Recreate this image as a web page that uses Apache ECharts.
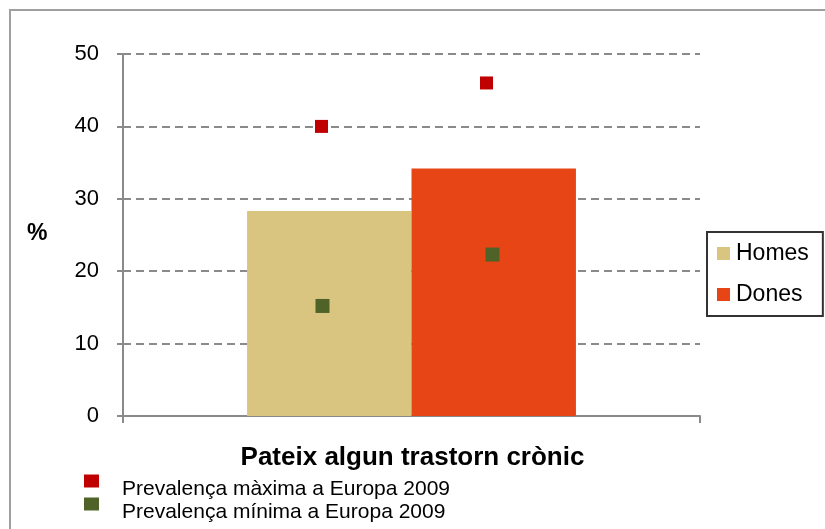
<!DOCTYPE html>
<html>
<head>
<meta charset="utf-8">
<script src="https://cdn.jsdelivr.net/npm/echarts@6/dist/echarts.min.js"></script>
<style>
  html, body { margin: 0; padding: 0; background: #fff; }
  #chart { width: 825px; height: 529px; }
</style>
</head>
<body>
<div id="chart"></div>
<script>
// dades
const categories = ['Pateix algun trastorn crònic'];
const homes = [28.3];
const dones = [34.2];
const maxEuropa = [40.0, 46.0];   // Homes, Dones
const minEuropa = [15.2, 22.3];   // Homes, Dones
const yTicks = [0, 10, 20, 30, 40, 50];

const font = '"Liberation Sans", Arial, sans-serif';
const gray = '#8a8a8a';

let myChart = echarts.init(document.getElementById('chart'));

// desplaçament horitzontal dels marcadors respecte al centre de la categoria
const offHomes = [-90, -89];
const offDones = [75, 81];

let option = {
  animation: false,
  textStyle: { fontFamily: font, color: '#000' },
  title: {
    text: categories[0],
    left: 'center',
    top: 440,
    textStyle: { fontFamily: font, fontSize: 26, fontWeight: 'bold', color: '#000' }
  },
  graphic: [
    {
      type: 'rect',
      shape: { x: 10, y: 10, width: 830, height: 540 },
      style: { fill: 'none', stroke: '#a0a0a0', lineWidth: 2 },
      z: -1
    },
    {
      type: 'text',
      left: 27, top: 222,
      style: { text: '%', font: 'bold 23px ' + font, fill: '#000' }
    }
  ],
  legend: [
    {
      data: ['Homes', 'Dones'],
      orient: 'vertical',
      left: 707,
      top: 232,
      padding: [10, 14, 10, 10],
      itemGap: 18,
      itemWidth: 13,
      itemHeight: 13,
      icon: 'rect',
      borderColor: '#333',
      borderWidth: 2,
      textStyle: { fontFamily: font, fontSize: 23, color: '#000', padding: [0, 0, 0, 1] }
    },
    {
      // el text queda una mica més avall que el quadrat, com a l'original
      data: ['Prevalença màxima a Europa 2009', 'Prevalença mínima a Europa 2009'],
      orient: 'vertical',
      left: 84,
      top: 462,
      padding: 0,
      itemGap: -15,
      itemWidth: 15,
      itemHeight: 13,
      icon: 'rect',
      formatter: name => '\n' + name,
      textStyle: { fontFamily: font, fontSize: 21, lineHeight: 17, color: '#000', padding: [0, 0, 0, 18] }
    }
  ],
  grid: { left: 123, right: 125, top: 54, bottom: 113, containLabel: false },
  xAxis: {
    type: 'category',
    data: categories,
    axisLine: { lineStyle: { color: gray, width: 2 } },
    axisTick: { show: true, length: 7, lineStyle: { color: gray, width: 2 } },
    axisLabel: { show: false }
  },
  yAxis: {
    type: 'value',
    min: 0,
    max: 50,
    interval: 10,
    axisLine: { show: true, lineStyle: { color: gray, width: 2 } },
    axisTick: { show: true, length: 6, lineStyle: { color: gray, width: 2 } },
    axisLabel: {
      fontFamily: font, fontSize: 22, color: '#000', margin: 24,
      formatter: v => yTicks.includes(v) ? String(v) : ''
    },
    splitLine: { lineStyle: { color: gray, width: 2, type: [8, 5] } }
  },
  series: [
    {
      name: 'Homes',
      type: 'bar',
      data: homes,
      barGap: '0%',
      barCategoryGap: '43%',
      itemStyle: { color: '#D9C480' },
      z: 2
    },
    {
      name: 'Dones',
      type: 'bar',
      data: dones,
      itemStyle: { color: '#E84516' },
      z: 2
    },
    {
      name: 'Prevalença màxima a Europa 2009',
      type: 'scatter',
      symbol: 'rect',
      symbolSize: 13,
      itemStyle: { color: '#C00000', opacity: 1 },
      data: [
        { value: [0, maxEuropa[0]], symbolOffset: [offHomes[0], 0] },
        { value: [0, maxEuropa[1]], symbolOffset: [offDones[0], 0] }
      ],
      z: 5
    },
    {
      name: 'Prevalença mínima a Europa 2009',
      type: 'scatter',
      symbol: 'rect',
      symbolSize: 14,
      itemStyle: { color: '#4F6228', opacity: 1 },
      data: [
        { value: [0, minEuropa[0]], symbolOffset: [offHomes[1], 0] },
        { value: [0, minEuropa[1]], symbolOffset: [offDones[1], 0] }
      ],
      z: 5
    }
  ]
};
myChart.setOption(option);
</script>
</body>
</html>
